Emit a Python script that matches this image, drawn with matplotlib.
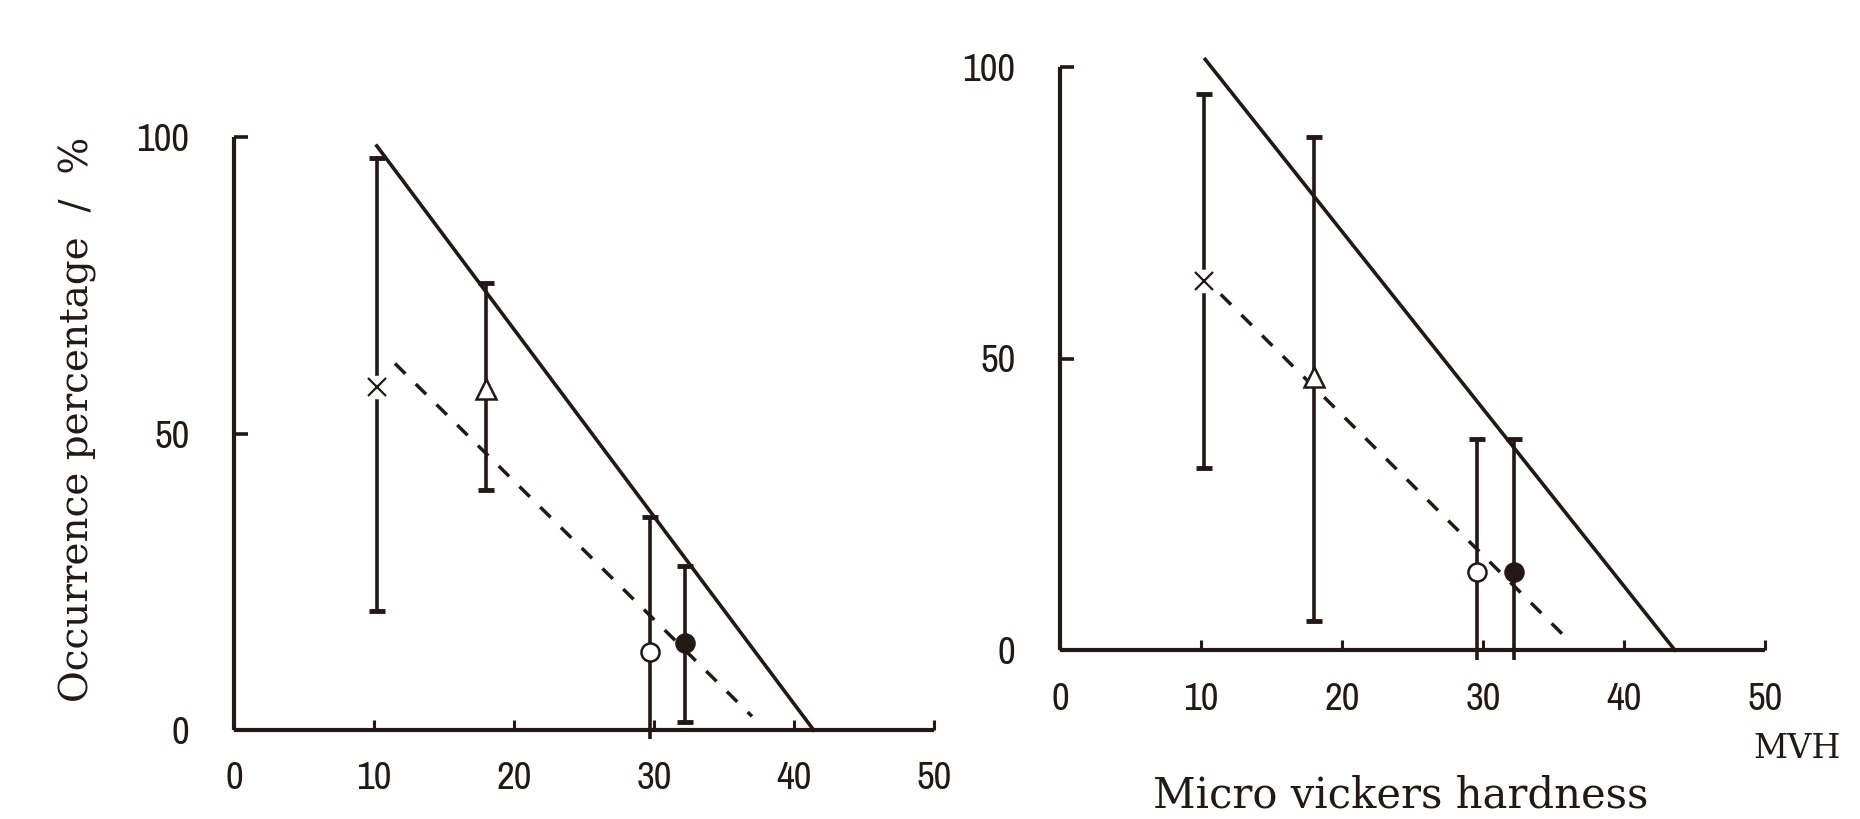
import matplotlib
matplotlib.use("Agg")
import matplotlib.pyplot as plt
from matplotlib import font_manager

INK = "#231815"

# data: (hardness, occurrence %, lower, upper)
left_x = [10.2, 18.0, 29.7, 32.2]
left_y = [57.9, 57.5, 13.1, 14.7]
left_lo = [20.1, 40.4, -1.6, 1.4]
left_hi = [96.5, 75.4, 35.9, 27.6]
left_solid_x = [10.2, 41.4]
left_solid_y = [98.5, 0.0]
left_dash_x = [11.5, 37.0]
left_dash_y = [61.8, 2.3]

right_x = [10.2, 18.0, 29.6, 32.2]
right_y = [63.3, 46.8, 13.3, 13.3]
right_lo = [31.2, 4.9, -1.7, -1.7]
right_hi = [95.3, 88.0, 36.2, 36.2]
right_solid_x = [10.3, 43.6]
right_solid_y = [101.3, 0.0]
right_dash_x = [11.4, 35.6]
right_dash_y = [61.0, 2.8]

x_ticks = [0, 10, 20, 30, 40, 50]
y_ticks = [0, 50, 100]


def pick_narrow_font():
    # the tick digits are a narrow gothic; use a condensed face if one is installed
    names = sorted({f.name for f in font_manager.fontManager.ttflist})
    for n in names:
        if "Narrow" in n or "Condensed" in n:
            return [n, "Liberation Sans", "DejaVu Sans"]
    return ["Liberation Sans", "DejaVu Sans"]


TICK_FONT = pick_narrow_font()
LABEL_FONT = ["DejaVu Serif"]


def draw_panel(ax, xs, ys, lo, hi, sx, sy, dx, dy, xpad, ypad):
    ax.set_xlim(0, 50)
    ax.set_ylim(0, 100)
    for side in ("top", "right"):
        ax.spines[side].set_visible(False)
    for side in ("left", "bottom"):
        ax.spines[side].set_linewidth(3.0)
        ax.spines[side].set_color(INK)
        ax.spines[side].set_capstyle("butt")
    ax.set_xticks(x_ticks)
    ax.set_yticks(y_ticks)
    ax.tick_params(axis="x", direction="in", length=7, width=2.2, color=INK,
                   pad=xpad, labelsize=28, labelcolor=INK)
    ax.tick_params(axis="y", direction="in", length=10, width=2.6, color=INK,
                   pad=ypad, labelsize=28, labelcolor=INK)
    for lab in ax.get_xticklabels() + ax.get_yticklabels():
        lab.set_family(TICK_FONT)
        lab.set_weight("bold")

    # trend lines
    ax.plot(sx, sy, color=INK, lw=2.6, clip_on=False, zorder=2)
    ax.plot(dx, dy, color=INK, lw=2.5, ls=(0, (4.2, 4.2)), clip_on=False, zorder=2)

    # error bars, caps only where the bar ends above the axis
    ax.vlines(xs, lo, hi, color=INK, lw=2.6, clip_on=False, zorder=3)
    cap_x = list(xs) + [x for x, l in zip(xs, lo) if l >= 0]
    cap_y = list(hi) + [l for l in lo if l >= 0]
    ax.plot(cap_x, cap_y, ls="none", marker="_", ms=12, mew=3.5, color=INK,
            clip_on=False, zorder=3)

    # markers: cross, open triangle, open circle, filled circle
    ax.plot(xs[0], ys[0], ls="none", marker="o", ms=17, mfc="white", mec="none",
            clip_on=False, zorder=4)
    ax.plot(xs[0], ys[0], ls="none", marker="x", ms=13, mew=1.6, color=INK,
            clip_on=False, zorder=5)
    ax.plot(xs[1], ys[1], ls="none", marker="^", ms=14, mfc="white", mec=INK,
            mew=1.8, clip_on=False, zorder=5)
    ax.plot(xs[2], ys[2], ls="none", marker="o", ms=13, mfc="white", mec=INK,
            mew=1.8, clip_on=False, zorder=5)
    ax.plot(xs[3], ys[3], ls="none", marker="o", ms=13, mfc=INK, mec=INK,
            mew=1.8, clip_on=False, zorder=5)


fig = plt.figure(figsize=(18.6, 8.19), dpi=100)
ax_l = fig.add_axes([234 / 1860, 89 / 819, 700 / 1860, 593 / 819])
ax_r = fig.add_axes([1060 / 1860, 169 / 819, 705 / 1860, 583 / 819])

draw_panel(ax_l, left_x, left_y, left_lo, left_hi, left_solid_x, left_solid_y,
           left_dash_x, left_dash_y, xpad=22, ypad=32)
draw_panel(ax_r, right_x, right_y, right_lo, right_hi, right_solid_x, right_solid_y,
           right_dash_x, right_dash_y, xpad=23, ypad=32)

fig.text(78 / 1860, 1 - 419 / 819, "Occurrence percentage  /  %", rotation=90,
         ha="center", va="center", fontsize=28, family=LABEL_FONT, color=INK)
fig.text(1401 / 1860, 1 - 808 / 819, "Micro vickers hardness", ha="center",
         va="baseline", fontsize=30, family=LABEL_FONT, color=INK)
fig.text(1797 / 1860, 1 - 758 / 819, "MVH", ha="center", va="baseline",
         fontsize=24, family=LABEL_FONT, color=INK)

fig.savefig("out.png", dpi=100, facecolor="white")
